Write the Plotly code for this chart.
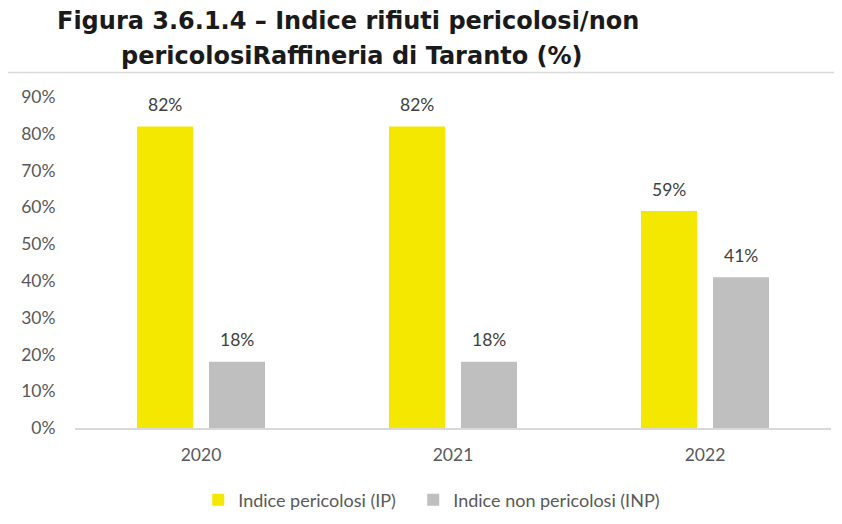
import plotly.graph_objects as go

years = ["2020", "2021", "2022"]
ip_values = [0.82, 0.82, 0.59]
inp_values = [0.18, 0.18, 0.41]
series_names = ["Indice pericolosi (IP)", "Indice non pericolosi (INP)"]
title_lines = ["Figura 3.6.1.4 – Indice rifiuti pericolosi/non",
               "pericolosiRaffineria di Taranto (%)"]

YELLOW = "#F5E800"
GREY = "#BFBFBF"
TXT = "#595959"
FONT = "Lato"

fig = go.Figure()
fig.add_trace(go.Bar(x=years, y=ip_values, name=series_names[0], marker_color=YELLOW,
                     marker_line_width=0, legend="legend"))
fig.add_trace(go.Bar(x=years, y=inp_values, name=series_names[1], marker_color=GREY,
                     marker_line_width=0, legend="legend2"))

annotations = []
for vals, shift in ((ip_values, -36), (inp_values, 36)):
    for i, v in enumerate(vals):
        annotations.append(dict(x=i, y=v, xref="x", yref="y", text=f"{round(v*100)}%",
                                showarrow=False, xshift=shift, yshift=22,
                                font=dict(family=FONT, size=17.5, color="#404040")))

annotations.append(dict(x=0.361, y=1.2296, xref="paper", yref="paper", yanchor="middle",
                        text="<b>" + title_lines[0] + "</b>", showarrow=False,
                        font=dict(family="DejaVu Sans", size=24, color="#1a1a1a")))
annotations.append(dict(x=0.366, y=1.1239, xref="paper", yref="paper", yanchor="middle",
                        text="<b>" + title_lines[1] + "</b>", showarrow=False,
                        font=dict(family="DejaVu Sans", size=24, color="#1a1a1a")))

legend_style = dict(orientation="h", xanchor="left", y=-0.2175, yanchor="middle",
                    font=dict(family=FONT, size=18, color=TXT), itemwidth=30,
                    bgcolor="rgba(0,0,0,0)")

# page has an 8px body margin, so the figure is offset by 8px right and down
fig.update_layout(
    width=834, height=516,
    margin=dict(l=67, r=11, t=89, b=96, autoexpand=False),
    paper_bgcolor="white", plot_bgcolor="white",
    barmode="group", bargap=0.4286, bargroupgap=0.222,
    showlegend=True,
    legend=dict(x=0.163, **legend_style),
    legend2=dict(x=0.4474, **legend_style),
    annotations=annotations,
    shapes=[dict(type="rect", xref="paper", yref="paper", x0=-0.09, x1=1.2, y0=-0.5, y1=1.074,
                 line=dict(color="#D9D9D9", width=1.5), fillcolor="rgba(0,0,0,0)", layer="below")],
)
fig.update_yaxes(range=[0, 0.9], dtick=0.1, tickformat=".0%", showgrid=False, zeroline=False,
                 showline=False, ticks="outside", ticklen=15, tickcolor="rgba(0,0,0,0)",
                 tickfont=dict(family=FONT, size=17.5, color=TXT), fixedrange=True)
fig.update_xaxes(type="category", range=[-0.5, 2.5], showline=True, linecolor="#D9D9D9",
                 linewidth=1.5, showgrid=False, ticks="outside", ticklen=10,
                 tickcolor="rgba(0,0,0,0)", tickfont=dict(family=FONT, size=17.5, color=TXT))

fig.write_html("out.html")
